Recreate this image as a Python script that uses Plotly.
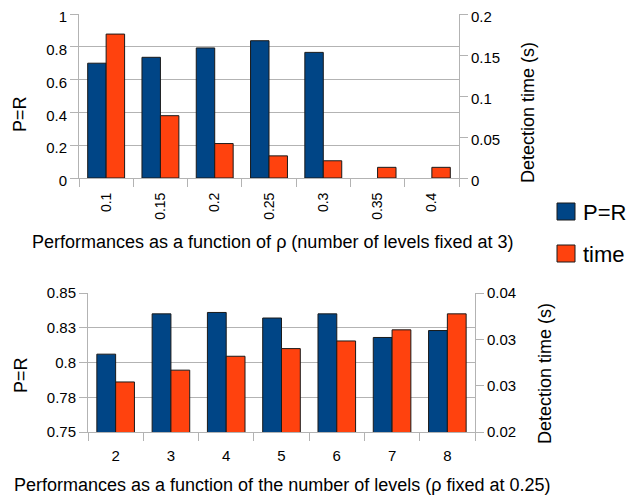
import plotly.graph_objects as go

# ---- data ----
rho_labels = ["0.1", "0.15", "0.2", "0.25", "0.3", "0.35", "0.4"]
rho_pr = [0.70, 0.736, 0.793, 0.837, 0.766, None, None]
rho_time = [0.1755, 0.076, 0.042, 0.027, 0.021, 0.013, 0.013]

level_labels = ["2", "3", "4", "5", "6", "7", "8"]
level_pr = [0.806, 0.835, 0.836, 0.832, 0.835, 0.818, 0.823]
level_time = [0.0272, 0.0289, 0.0309, 0.0320, 0.0331, 0.0347, 0.0370]

bot_left_tickvals = [0.75, 0.775, 0.8, 0.825, 0.85]
bot_left_ticktext = ["0.75", "0.78", "0.8", "0.83", "0.85"]
bot_right_tickvals = [0.02, 0.02 + 0.02 / 3, 0.02 + 0.04 / 3, 0.04]
bot_right_ticktext = ["0.02", "0.03", "0.03", "0.04"]

series_names = ["P=R", "time"]
colors = ["#004586", "#ff420e"]

title_top = "Performances as a function of \u03c1 (number of levels fixed at 3)"
title_bot = "Performances as a function of the number of levels (\u03c1 fixed at 0.25)"

# page body has an 8px margin; figure fills the rest of the 644x497 window
OFF = 8
W, H = 644 - OFF, 497 - OFF
FONT = "Liberation Sans, Arial, sans-serif"
GRID = "#b3b3b3"
OUTLINE = "#1a1a1a"


def px(x):
    return (x - OFF) / W


def py(y):
    return 1 - (y - OFF) / H


fig = go.Figure()

fig.add_trace(go.Bar(x=rho_labels, y=rho_pr, name=series_names[0], xaxis="x", yaxis="y",
                     offsetgroup="a", marker=dict(color=colors[0], line=dict(color=OUTLINE, width=1)),
                     showlegend=False))
fig.add_trace(go.Bar(x=rho_labels, y=rho_time, name=series_names[1], xaxis="x", yaxis="y2",
                     offsetgroup="b", marker=dict(color=colors[1], line=dict(color=OUTLINE, width=1)),
                     showlegend=False))
fig.add_trace(go.Bar(x=level_labels, y=level_pr, name=series_names[0], xaxis="x2", yaxis="y3",
                     offsetgroup="a", marker=dict(color=colors[0], line=dict(color=OUTLINE, width=1)),
                     showlegend=False))
fig.add_trace(go.Bar(x=level_labels, y=level_time, name=series_names[1], xaxis="x2", yaxis="y4",
                     offsetgroup="b", marker=dict(color=colors[1], line=dict(color=OUTLINE, width=1)),
                     showlegend=False))

tickfont = dict(family=FONT, size=15, color="#000")

xcommon = dict(type="category", showgrid=False, showline=True, linecolor=GRID, linewidth=1,
               ticks="outside", tickson="boundaries", ticklen=8, tickcolor=GRID,
               automargin=False, zeroline=False, ticklabeloverflow="allow")
ycommon = dict(showline=True, linecolor=GRID, linewidth=1, ticks="outside", ticklen=8,
               tickcolor=GRID, tickfont=tickfont, automargin=False, zeroline=False,
               ticklabeloverflow="allow")

fig.update_layout(
    width=W, height=H,
    margin=dict(l=0, r=0, t=0, b=0),
    paper_bgcolor="white", plot_bgcolor="white",
    barmode="group", bargap=0.32, bargroupgap=0,
    font=dict(family=FONT, color="#000"),
    xaxis=dict(domain=[px(79), px(459)], anchor="y", tickangle=-90, ticklabelstandoff=8,
               tickfont=dict(family=FONT, size=14, color="#000"), **xcommon),
    yaxis=dict(domain=[py(178), py(14)], anchor="x", range=[0, 1], dtick=0.2,
               showgrid=True, gridcolor=GRID, ticklabelshift=3, **ycommon),
    yaxis2=dict(overlaying="y", side="right", anchor="x", range=[0, 0.2], dtick=0.05,
                showgrid=False, ticklabelshift=3, **ycommon),
    xaxis2=dict(domain=[px(88), px(475)], anchor="y3", tickangle=0, ticklabelstandoff=10,
                tickfont=tickfont, **xcommon),
    yaxis3=dict(domain=[py(432), py(293)], anchor="x2", range=[0.75, 0.85],
                tickvals=bot_left_tickvals, ticktext=bot_left_ticktext,
                showgrid=True, gridcolor=GRID, **ycommon),
    yaxis4=dict(overlaying="y3", side="right", anchor="x2", range=[0.02, 0.04],
                tickvals=bot_right_tickvals, ticktext=bot_right_ticktext,
                showgrid=False, **ycommon),
)

ann = []
tf = dict(family=FONT, size=18, color="#000")
ann.append(dict(text=title_top, x=px(272), y=py(242), xref="paper", yref="paper",
                showarrow=False, xanchor="center", yanchor="middle", font=tf))
ann.append(dict(text=title_bot, x=px(282), y=py(485), xref="paper", yref="paper",
                showarrow=False, xanchor="center", yanchor="middle", font=tf))
af = dict(family=FONT, size=18, color="#000")
for (xx, yy, t) in [(20, 114, "P=R"), (528, 113, "Detection time (s)"),
                    (21, 375, "P=R"), (545, 374, "Detection time (s)")]:
    ann.append(dict(text=t, x=px(xx), y=py(yy), xref="paper", yref="paper", textangle=-90,
                    showarrow=False, xanchor="center", yanchor="middle", font=af))

# legend
shapes = []
for i, (name, col) in enumerate(zip(series_names, colors)):
    top = 203 + i * 42
    shapes.append(dict(type="rect", xref="paper", yref="paper",
                       x0=px(557), x1=px(575), y0=py(top + 17), y1=py(top),
                       fillcolor=col, line=dict(color=OUTLINE, width=1)))
    ann.append(dict(text=name, x=px(581), y=py(top + 9), xref="paper", yref="paper",
                    showarrow=False, xanchor="left", yanchor="middle",
                    font=dict(family=FONT, size=22, color="#000")))

fig.update_layout(annotations=ann, shapes=shapes)

fig.write_html("out.html")
